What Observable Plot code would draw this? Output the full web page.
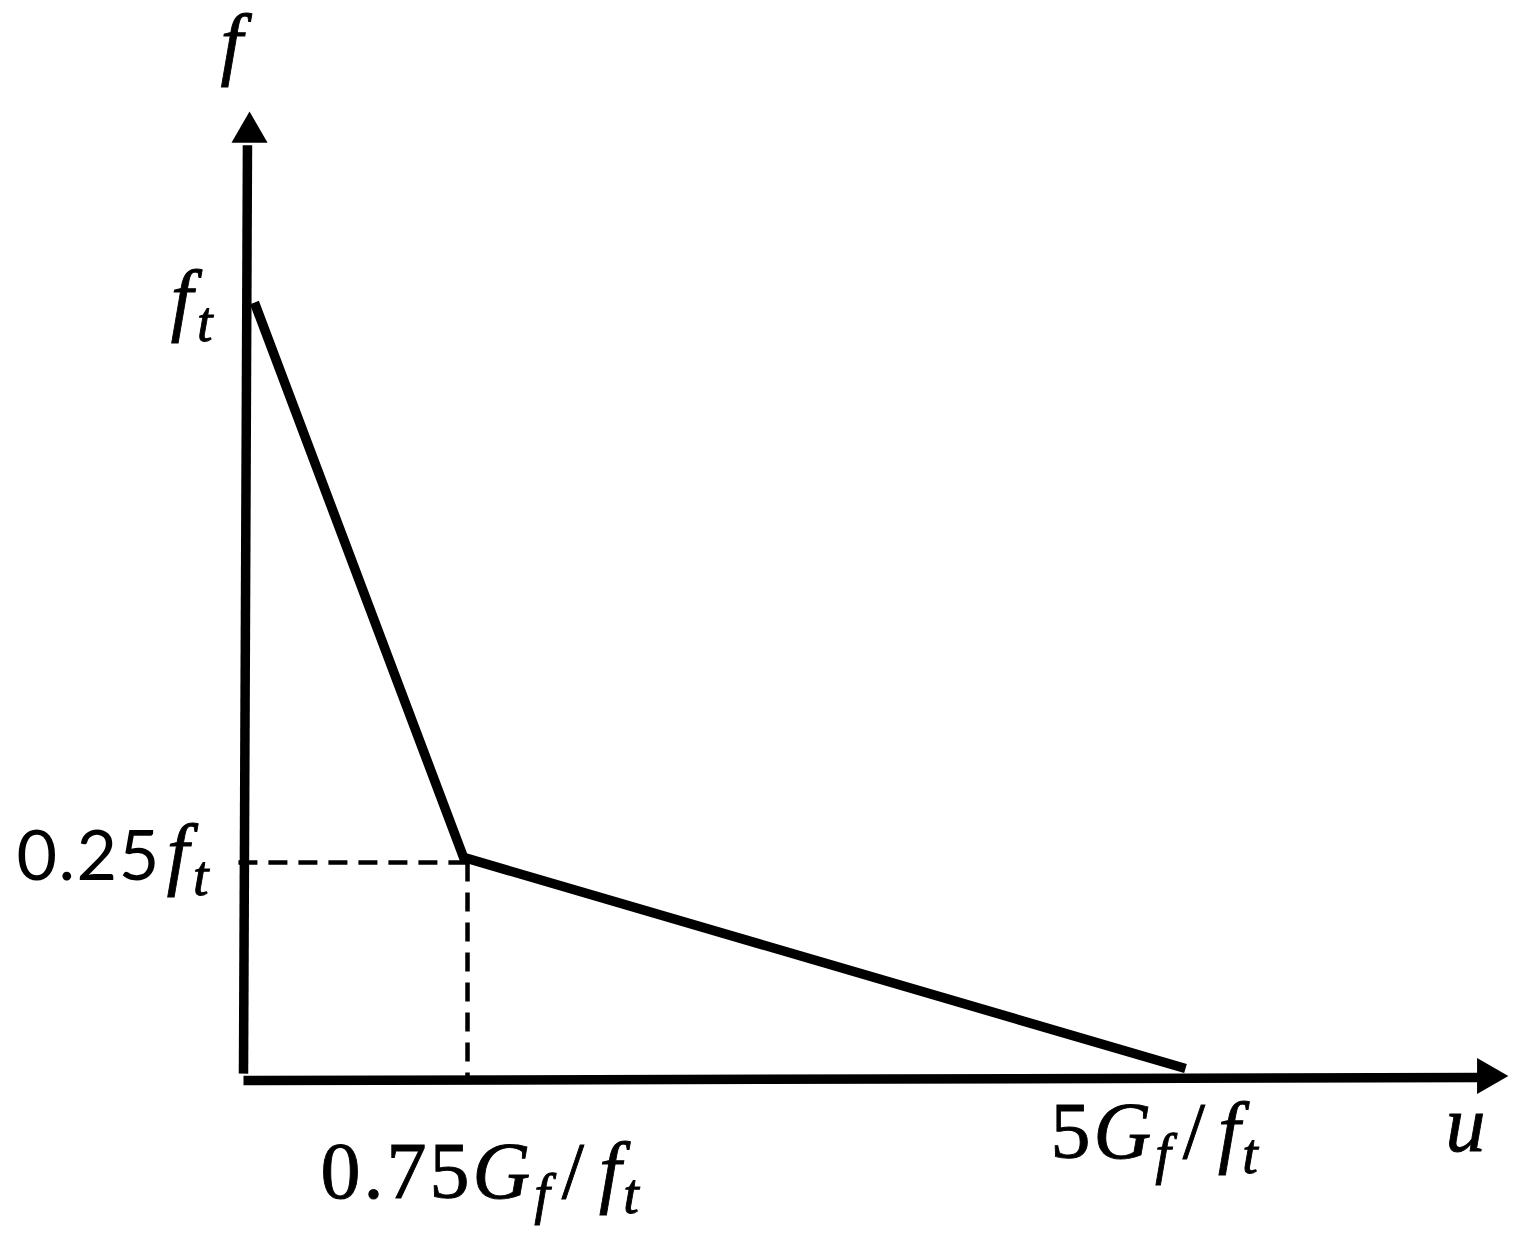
<!DOCTYPE html>
<html>
<head>
<meta charset="utf-8">
<script src="https://cdn.jsdelivr.net/npm/d3@7"></script>
<script src="https://cdn.jsdelivr.net/npm/@observablehq/plot@0.6"></script>
<style>
  html, body { margin: 0; padding: 0; background: #fff; }
  svg { display: block; }
</style>
</head>
<body>
<div id="chart"></div>
<script>
// Traction-separation law (schematic). u in units of Gf/ft (as drawn), f in units of ft (as drawn)
const curveU = [0.058, 1.168, 5];
const curveF = [1.0, 0.284, 0.0116];

const yAxisU = [0, 0.021];
const yAxisF = [0.005, 1.203];
const xAxisU = [0, 6.566];
const xAxisF = [-0.004, 0];

const arrowU = [0.032, 6.603];
const arrowF = [1.2196, 0.0019];
const arrowRotate = [0, 90];

const guideHU = [-0.027, 1.189];
const guideHF = [0.2774, 0.2774];
const guideVU = [1.189, 1.189];
const guideVF = [0.2774, 0.0013];

const labelText = ["f", "f_t", "0.25f_t", "0.75G_f/f_t", "5G_f/f_t", "u"];
const labelU = [-0.0637, -0.1645, -1.2049, 0.4087, 4.2834, 6.380];
const labelF = [1.3006, 0.9703, 0.2542, -0.1561, -0.1045, -0.0942];
const labelAnchor = ["middle", "end", "start", "start", "start", "start"];

const zip = (a, b, extra = {}) => a.map((u, i) => ({u, f: b[i], ...Object.fromEntries(Object.entries(extra).map(([k, v]) => [k, v[i]]))}));

const curve = zip(curveU, curveF);
const yAxis = zip(yAxisU, yAxisF);
const xAxis = zip(xAxisU, xAxisF);
const arrows = zip(arrowU, arrowF, {rot: arrowRotate});
const guideH = zip(guideHU, guideHF);
const guideV = zip(guideVU, guideVF);
const labels = zip(labelU, labelF, {text: labelText});

const lineStyle = {x: "u", y: "f", stroke: "black", strokeLinecap: "butt", strokeLinejoin: "miter"};

const chart = Plot.plot({
  width: 1529,
  height: 1245,
  margin: 0,
  x: {domain: [0, 5], range: [243, 1185], axis: null},
  y: {domain: [0, 1], range: [1077, 302], axis: null},
  style: {background: "white", overflow: "visible"},
  marks: [
    Plot.line(guideH, {...lineStyle, strokeWidth: 4.5, strokeDasharray: "19,11"}),
    Plot.line(guideV, {...lineStyle, strokeWidth: 4.5, strokeDasharray: "19,11"}),
    Plot.line(yAxis, {...lineStyle, strokeWidth: 9.5}),
    Plot.line(xAxis, {...lineStyle, strokeWidth: 9.5}),
    Plot.dot(arrows, {x: "u", y: "f", symbol: "triangle", r: 13.4, fill: "black", stroke: "none", rotate: "rot"}),
    Plot.line(curve, {...lineStyle, strokeWidth: 9.5, strokeMiterlimit: 10}),
    Plot.text(labels, {x: "u", y: "f", text: "text", textAnchor: "start", lineAnchor: "bottom", fill: "black"})
  ]
});

// Typesetting: italic letters, subscripts after "_", extra spacing like a math font.
const runDx = {
  "f_t": [0, 4],
  "0.25f_t": [0, 6, 4],
  "0.75G_f/f_t": [0, 0, 4, 12, 12, 2],
  "5G_f/f_t": [0, 0, 4, 12, 10, 2]
};
function runs(s) {
  const out = [];
  for (let i = 0; i < s.length; i++) {
    let ch = s[i], kind;
    if (ch === "_") { ch = s[++i]; kind = "sub"; }
    else if (/[A-Za-z]/.test(ch)) kind = "it";
    else kind = "up";
    const last = out[out.length - 1];
    if (last && last.kind === kind && kind !== "sub") last.t += ch;
    else out.push({t: ch, kind});
  }
  return out;
}

const texts = chart.querySelectorAll('g[aria-label="text"] text');
texts.forEach((node, i) => {
  const s = labelText[i];
  const sansDigits = s.startsWith("0.25");
  const dxs = runDx[s] || [];
  node.textContent = "";
  node.setAttribute("text-anchor", labelAnchor[i]);
  node.setAttribute("stroke", "black");
  node.setAttribute("stroke-width", 0.9);
  let shifted = false;
  runs(s).forEach((r, j) => {
    const ts = document.createElementNS("http://www.w3.org/2000/svg", "tspan");
    ts.textContent = r.t;
    if (r.kind === "up") {
      ts.setAttribute("font-family", sansDigits ? "Lato, 'Liberation Sans', sans-serif" : "'Liberation Serif', serif");
      ts.setAttribute("font-size", sansDigits ? 70 : 80);
      ts.setAttribute("letter-spacing", sansDigits ? 1.5 : 3);
      if (sansDigits) ts.setAttribute("stroke-width", 0);
    } else {
      ts.setAttribute("font-family", "'Liberation Serif', serif");
      ts.setAttribute("font-style", "italic");
      ts.setAttribute("font-size", r.kind === "sub" ? 56 : 80);
    }
    if (dxs[j]) ts.setAttribute("dx", dxs[j]);
    if (r.kind === "sub" && !shifted) { ts.setAttribute("dy", 15); shifted = true; }
    else if (r.kind !== "sub" && shifted) { ts.setAttribute("dy", -15); shifted = false; }
    node.appendChild(ts);
  });
});

document.getElementById("chart").appendChild(chart);
</script>
</body>
</html>
